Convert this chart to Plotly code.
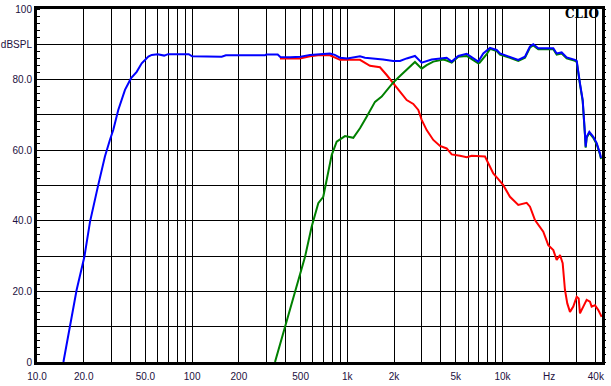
import plotly.graph_objects as go

# ---------------- data ----------------
blue_f = [14.8, 16.3, 18.0, 20.2, 21.96, 24.8, 27.4, 29.5, 31.0, 33.4, 36.9, 40.4, 43.9, 47.3, 52.2,
          54.9, 60, 66, 70, 95, 100, 155, 165, 295, 300, 356, 370, 430, 500, 575, 667, 773, 830, 897,
          1000, 1100, 1207, 1300, 1508, 1700, 1978, 2185, 2414, 2730, 3016, 3498, 4370, 4708, 5192,
          5881, 6986, 7521, 8309, 9180, 9639, 11180, 12650, 13970, 15050, 15800, 17020, 21270, 22360,
          24080, 25940, 29350, 30100, 31600, 32900, 34000, 34400, 34900, 36300, 38500, 40500, 42500, 43200]
blue_db = [0, 10, 20.4, 29.8, 39.7, 50.1, 58.2, 62.9, 65.7, 71.4, 77.1, 80.4, 82.2, 84.6, 86.5,
           87.0, 87.2, 86.8, 87.2, 87.2, 86.6, 86.5, 86.9, 86.9, 87.1, 87.1, 86.4, 86.3, 86.5, 87.0, 87.2, 87.4, 87.0, 86.2,
           86.0, 86.3, 86.6, 86.2, 86.0, 85.7, 85.3, 85.3, 86.0, 86.7, 84.8, 85.7, 86.2, 85.1, 86.7,
           87.3, 85.1, 87.4, 89.0, 88.4, 87.4, 86.5, 85.6, 86.5, 89.4, 90.0, 88.9, 88.9, 87.4,
           87.7, 86.3, 85.6, 85.3, 78.9, 74.2, 64.8, 61.0, 63.8, 65.2, 63.8, 62.0, 59.1, 57.8]

green_f = [342, 397, 460, 495, 534, 589, 650, 700, 736, 793, 854, 966, 1093, 1207, 1333, 1508, 1666,
           1978, 2185, 2414, 2730, 3016, 3248, 3583, 4156, 4370, 4708, 5192, 5881, 6986, 7134, 7912,
           8309, 9180, 9639, 11180, 12650, 13970, 15050, 15800, 17020, 21270, 22360, 24080, 25940,
           29350, 30100, 31600, 32900, 34000, 34400, 34900, 36300, 38500, 40500, 42500, 43200]
green_db = [0, 10, 19.5, 24.2, 29.8, 38.3, 45.0, 46.8, 51.6, 58.6, 62.4, 64.0, 63.5, 66.2, 69.5, 73.7, 75.2,
            79.2, 81.0, 82.7, 85.0, 83.1, 84.1, 85.1, 85.7, 85.4, 84.8, 86.5, 86.7, 84.6, 84.8, 87.2,
            88.7, 88.1, 87.1, 86.2, 85.3, 86.2, 89.1, 89.7, 88.6, 88.6, 87.1, 87.4, 86.0,
            85.3, 85.0, 78.6, 73.9, 64.5, 60.7, 63.5, 64.9, 63.5, 61.7, 58.8, 57.5]

red_f = [368, 427, 495, 575, 667, 773, 897, 1041, 1207, 1400, 1624, 1794, 1978, 2185, 2414, 2663, 2868,
         3016, 3248, 3583, 3957, 4370, 4708, 5324, 5881, 6332, 7134, 7717, 8104, 8728, 9400, 10120,
         11180, 12650, 14320, 15050, 16200, 18330, 19740, 21270, 22360, 23490, 24440, 25290, 26170,
         27240, 28610, 30100, 30990, 31600, 33190, 34900, 36640, 37580, 39470, 41470, 43600]
red_db = [86.0, 85.9, 86.0, 86.6, 87.0, 86.9, 85.6, 85.6, 85.6, 83.9, 83.5, 81.3, 78.9, 76.6, 74.2, 73.1, 71.4,
          68.6, 65.7, 62.9, 61.2, 60.5, 58.8, 58.4, 58.0, 58.4, 58.4, 58.2, 56.3, 53.4, 51.8, 50.1,
          46.8, 44.5, 45.1, 44.0, 40.2, 36.9, 33.1, 31.7, 28.9, 30.3, 28.0, 20.4, 16.6,
          14.2, 15.7, 18.5, 18.0, 13.8, 15.7, 17.6, 17.1, 15.7, 16.1, 14.7, 12.8]

x_grid = [10, 20, 30, 40, 50, 60, 70, 80, 90,
          100, 200, 300, 400, 500, 600, 700, 800, 900,
          1000, 2000, 3000, 4000, 5000, 6000, 7000, 8000, 9000,
          10000, 20000, 30000, 40000]
x_labels = {10: "10.0", 20: "20.0", 50: "50.0", 100: "100", 200: "200", 500: "500",
            1000: "1k", 2000: "2k", 5000: "5k", 10000: "10k", 20000: "Hz", 40000: "40k"}
y_grid = [0, 10, 20, 30, 40, 50, 60, 70, 80, 90, 100]
y_labels = ["0", "", "20.0", "", "40.0", "", "60.0", "", "80.0", "dBSPL", "100"]

# ---------------- figure ----------------
fig = go.Figure()
fig.add_trace(go.Scatter(x=red_f, y=red_db, mode="lines", line=dict(color="#ff0000", width=2), showlegend=False))
fig.add_trace(go.Scatter(x=green_f, y=green_db, mode="lines", line=dict(color="#008000", width=2), showlegend=False))
fig.add_trace(go.Scatter(x=blue_f, y=blue_db, mode="lines", line=dict(color="#0000ff", width=2), showlegend=False))
fig.add_trace(go.Scatter(x=[], y=[], yaxis="y2", showlegend=False))

label_font = dict(family="Liberation Sans, Arial, sans-serif", size=10, color="#1c1040")

fig.update_layout(
    width=611, height=386,
    margin=dict(l=37, r=9, t=9, b=24, autoexpand=False),
    paper_bgcolor="white", plot_bgcolor="white",
    xaxis=dict(type="log", range=[1, 4.6416], automargin=False,
               tickmode="array", tickvals=x_grid,
               ticktext=[x_labels.get(v, "") for v in x_grid],
               showgrid=True, gridcolor="black", gridwidth=1,
               showline=True, linecolor="black", linewidth=3, mirror=True,
               ticks="", tickfont=label_font, zeroline=False, ticklabelstandoff=3),
    yaxis=dict(range=[0, 100], tickmode="array", tickvals=y_grid, ticktext=y_labels, automargin=False,
               showgrid=True, gridcolor="black", gridwidth=1,
               showline=True, linecolor="black", linewidth=3, mirror=True,
               ticks="", tickfont=label_font, zeroline=False,
               minor=dict(dtick=2, tick0=0, ticks="inside", ticklen=3, tickcolor="black", showgrid=False)),
    yaxis2=dict(range=[0, 100], overlaying="y", side="right", showgrid=False, zeroline=False, automargin=False,
                showticklabels=False, tickmode="linear", dtick=2, tick0=0,
                ticks="outside", ticklen=3, tickcolor="black"),
    annotations=[dict(text="<b>CLIO</b>", xref="paper", yref="paper", x=0.998, y=0.985,
                      xanchor="right", yanchor="middle", showarrow=False,
                      font=dict(family="DejaVu Serif, Liberation Serif, serif", size=12, color="black"))],
)

fig.write_html("out.html")
